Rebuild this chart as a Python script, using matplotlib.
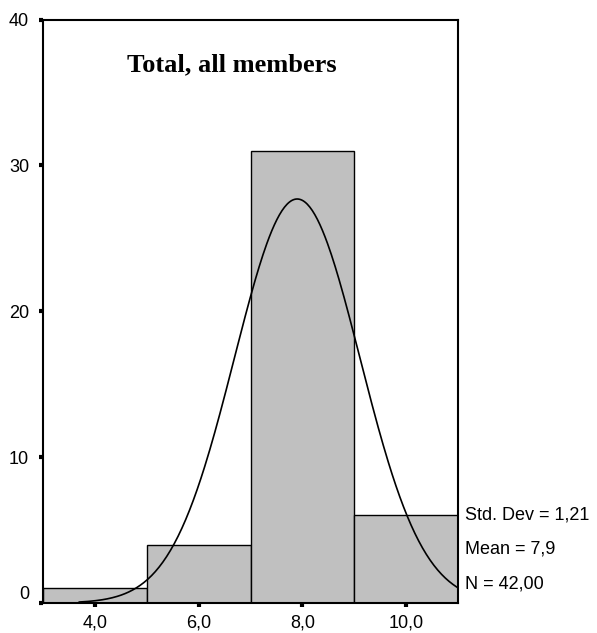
import numpy as np
import matplotlib
matplotlib.use('Agg')
from matplotlib import pyplot as plt

# Dados do histograma (classes de largura 2)
bin_edges = [3, 5, 7, 9, 11]
counts = [1, 4, 31, 6]
x_ticks = [4, 6, 8, 10]
x_tick_labels = ['4,0', '6,0', '8,0', '10,0']
y_ticks = [0, 10, 20, 30, 40]

# Estatísticas mostradas no gráfico
std_dev = 1.21
mean = 7.9
n_total = 42
stats_labels = ['Std. Dev = 1,21', 'Mean = 7,9', 'N = 42,00']

fig = plt.figure(figsize=(5.97, 6.33), dpi=100)
ax = fig.add_axes([43 / 597, 30 / 633, 415 / 597, 583.5 / 633])

# Barras
lefts = bin_edges[:-1]
widths = np.diff(bin_edges)
ax.bar(lefts, counts, width=widths, align='edge', color='#c0c0c0',
       edgecolor='black', linewidth=1.0, zorder=2)

# Curva normal ajustada (mesma escala das contagens)
bw = widths[0]
xs = np.linspace(3.7, 11, 300)
ys = n_total * bw / (std_dev * np.sqrt(2 * np.pi)) * np.exp(-0.5 * ((xs - mean) / std_dev) ** 2)
ax.plot(xs, ys, color='black', linewidth=1.2, zorder=3)

ax.set_xlim(bin_edges[0], bin_edges[-1])
ax.set_ylim(y_ticks[0], y_ticks[-1])

ax.set_xticks(x_ticks, x_tick_labels)
ax.set_yticks(y_ticks, [str(v) for v in y_ticks])
ax.tick_params(axis='both', direction='out', length=3, width=3, color='black',
               labelsize=13, labelfontfamily='Liberation Sans')
ax.tick_params(axis='x', pad=5)
ax.tick_params(axis='y', pad=7)
ax.get_yticklabels()[0].set_va('bottom')

for s in ax.spines.values():
    s.set_linewidth(1.5)
    s.set_color('black')

# Título dentro do gráfico
ax.text(0.2017, 0.922, 'Total, all members', transform=ax.transAxes,
        ha='left', va='center', fontsize=19, fontweight='bold',
        family='Liberation Serif')

# Estatísticas à direita
for i, txt in enumerate(stats_labels):
    ax.annotate(txt, xy=(1, 0), xycoords='axes fraction',
                xytext=(7, 88 - 34.5 * i), textcoords='offset pixels',
                ha='left', va='center', fontsize=13, family='Liberation Sans')

plt.savefig('out.png', dpi=100)
